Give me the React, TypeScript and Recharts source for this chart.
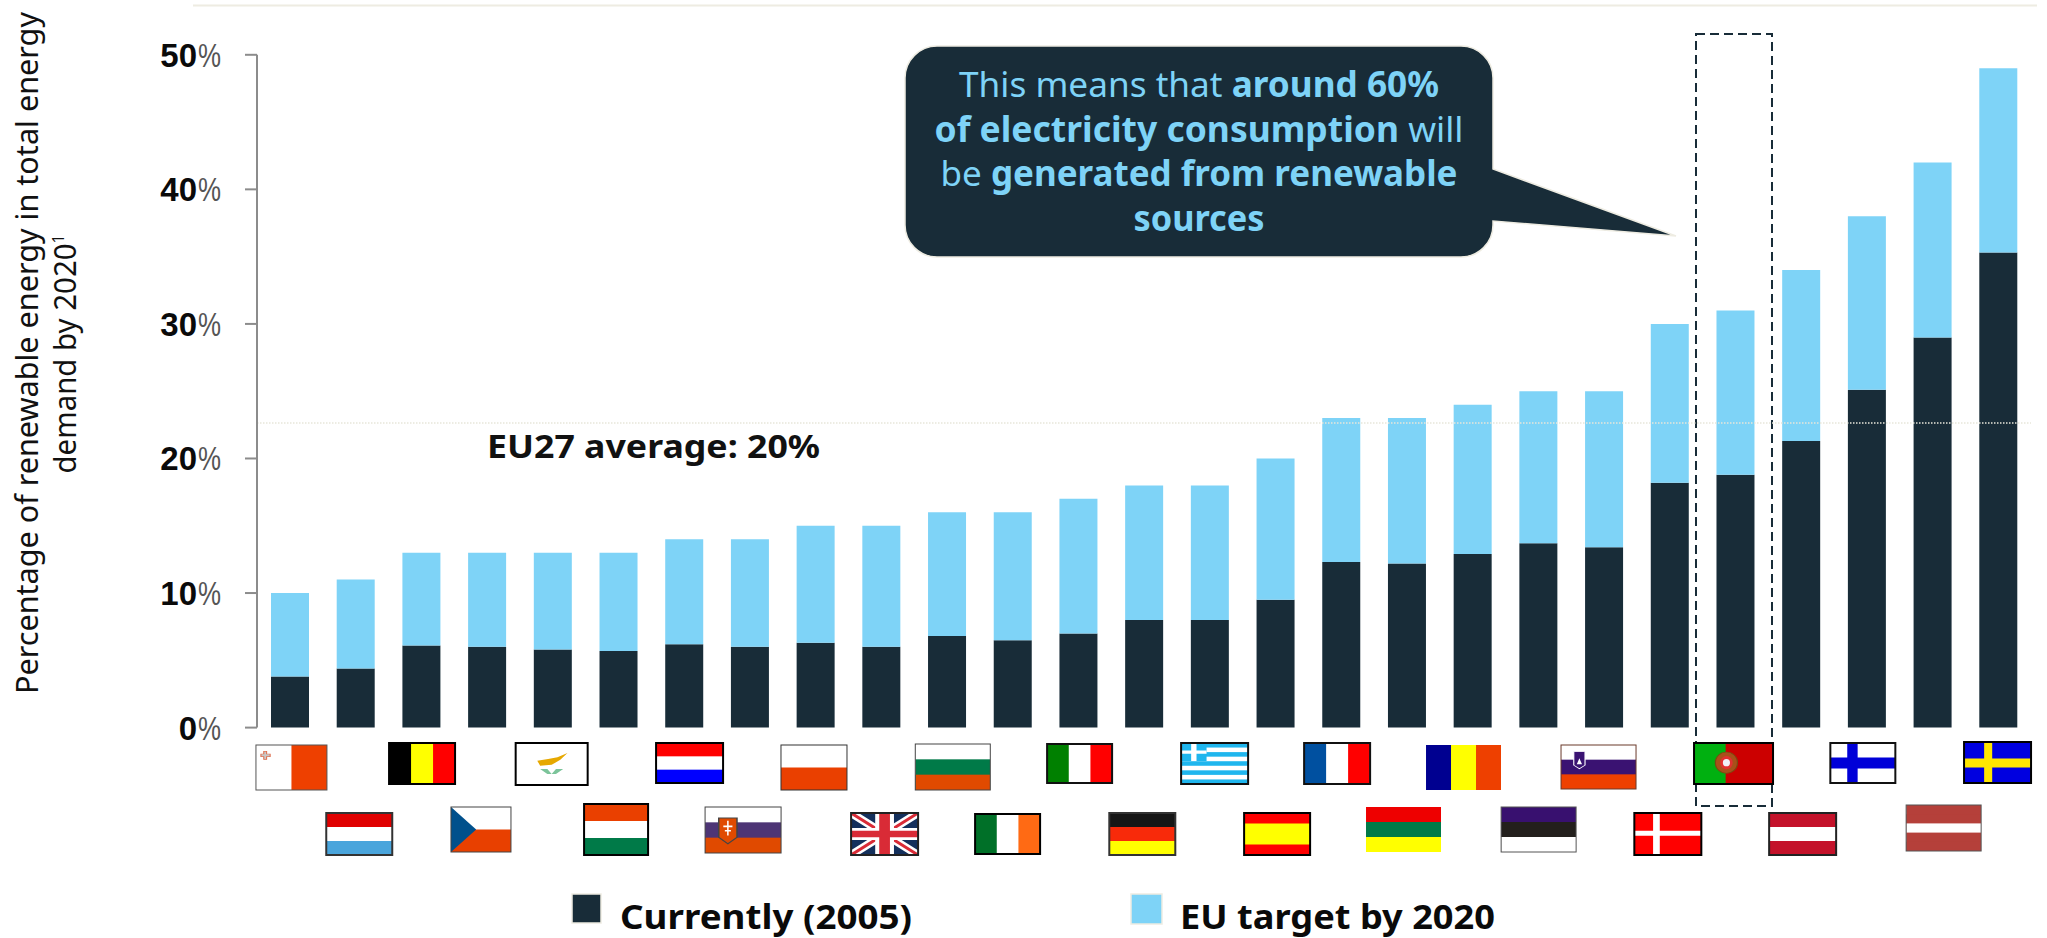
import { Bar, BarChart, ReferenceLine, XAxis, YAxis } from "recharts"

const countries = [
  "Malta", "Luxembourg", "Belgium", "Czech Republic", "Cyprus", "Hungary", "Netherlands",
  "Slovakia", "Poland", "United Kingdom", "Bulgaria", "Ireland", "Italy", "Germany",
  "Greece", "Spain", "France", "Lithuania", "Romania", "Estonia", "Slovenia",
  "Denmark", "Portugal", "Austria", "Finland", "Latvia", "Sweden",
]
const currentShare = [
  3.8, 4.4, 6.1, 6.0, 5.8, 5.7, 6.2, 6.0, 6.3, 6.0, 6.8, 6.5, 7.0, 8.0,
  8.0, 9.5, 12.3, 12.2, 12.9, 13.7, 13.4, 18.2, 18.8, 21.3, 25.1, 29.0, 35.3,
]
const targetShare = [
  10, 11, 13, 13, 13, 13, 14, 14, 15, 15, 16, 16, 17, 18,
  18, 20, 23, 23, 24, 25, 25, 30, 31, 34, 38, 42, 49,
]
const valueTicks = [0, 10, 20, 30, 40, 50]
// the dotted guide runs above the 20 tick, higher than the 20% the caption quotes
const guideLevel = 22.63

const DARK = "#182c38"
const LIGHT = "#7ed3f7"
const FONT = "'Noto Sans', sans-serif"

const rows = countries.map((country, i) => ({
  country,
  current: currentShare[i],
  gap: targetShare[i] - currentShare[i],
}))

// dx from tick centre, absolute top, width, height
const flagBoxes: Record<string, [number, number, number, number]> = {
  Malta: [1.6, 745, 71, 45],
  Luxembourg: [3.7, 813, 66, 42],
  Belgium: [0.8, 743, 66, 41],
  "Czech Republic": [-6, 807, 60, 45],
  Cyprus: [-1, 743, 72, 42],
  Hungary: [-2.3, 804, 64, 51],
  Netherlands: [5.5, 743, 67, 40],
  Slovakia: [-6.7, 807, 76, 46],
  Poland: [-1.5, 745, 66, 45],
  "United Kingdom": [3.4, 813, 67, 42],
  Bulgaria: [5.9, 744, 75, 46],
  Ireland: [-5, 814, 65, 40],
  Italy: [1.3, 744, 65, 39],
  Germany: [-1.7, 813, 66, 42],
  Greece: [4.9, 743, 67, 41],
  Spain: [1.7, 813, 66, 42],
  France: [-4, 743, 66, 41],
  Lithuania: [-3.3, 807, 75, 45],
  Romania: [-9, 745, 75, 45],
  Estonia: [0.4, 807, 75, 45],
  Slovenia: [-5.4, 745, 75, 44],
  Denmark: [-1.8, 813, 67, 42],
  Portugal: [-1.8, 743, 79, 41],
  Austria: [1.6, 813, 67, 42],
  Finland: [-3.9, 743, 65, 40],
  Latvia: [11.2, 805, 75, 46],
  Sweden: [-0.6, 742, 67, 41],
}

type FlagStyle = { dir: "h" | "v"; bands: string[]; border: string; borderWidth: number }

const flagStyles: Record<string, FlagStyle> = {
  Malta: { dir: "v", bands: ["#fff", "#ee4000"], border: "#555", borderWidth: 1 },
  Luxembourg: { dir: "h", bands: ["#e00000", "#fff", "#4aa5dc"], border: "#333", borderWidth: 2 },
  Belgium: { dir: "v", bands: ["#000", "#ff0", "#f00"], border: "#000", borderWidth: 2 },
  "Czech Republic": { dir: "h", bands: ["#fff", "#e84000"], border: "#444", borderWidth: 1 },
  Cyprus: { dir: "h", bands: ["#fff"], border: "#000", borderWidth: 2 },
  Hungary: { dir: "h", bands: ["#ea4000", "#fff", "#007a48"], border: "#000", borderWidth: 2 },
  Netherlands: { dir: "h", bands: ["#f00", "#fff", "#00f"], border: "#000", borderWidth: 2 },
  Slovakia: { dir: "h", bands: ["#fff", "#4d3575", "#e04a00"], border: "#444", borderWidth: 1 },
  Poland: { dir: "h", bands: ["#fff", "#ea4000"], border: "#333", borderWidth: 1 },
  "United Kingdom": { dir: "h", bands: ["#14305c"], border: "#222", borderWidth: 2 },
  Bulgaria: { dir: "h", bands: ["#fff", "#007a48", "#e04a00"], border: "#444", borderWidth: 1 },
  Ireland: { dir: "v", bands: ["#007028", "#fff", "#ff6a14"], border: "#000", borderWidth: 2 },
  Italy: { dir: "v", bands: ["#008000", "#fff", "#f00"], border: "#111", borderWidth: 2 },
  Germany: { dir: "h", bands: ["#161616", "#f82a0a", "#ff0"], border: "#333", borderWidth: 2 },
  Greece: { dir: "h", bands: ["#1fb6ee", "#fff", "#1fb6ee", "#fff", "#1fb6ee", "#fff", "#1fb6ee", "#fff", "#1fb6ee"], border: "#111", borderWidth: 2 },
  Spain: { dir: "h", bands: ["#f00", "#ff0", "#ff0", "#f00"], border: "#000", borderWidth: 2 },
  France: { dir: "v", bands: ["#0050a0", "#fff", "#f00"], border: "#111", borderWidth: 2 },
  Lithuania: { dir: "h", bands: ["#ee0000", "#007a48", "#ff0"], border: "none", borderWidth: 0 },
  Romania: { dir: "v", bands: ["#000090", "#ff0", "#ee4000"], border: "none", borderWidth: 0 },
  Estonia: { dir: "h", bands: ["#38106f", "#231f1c", "#fff"], border: "#555", borderWidth: 1 },
  Slovenia: { dir: "h", bands: ["#fff", "#3a1272", "#ee4000"], border: "#6a3a2a", borderWidth: 1 },
  Denmark: { dir: "h", bands: ["#f00"], border: "#000", borderWidth: 2 },
  Portugal: { dir: "v", bands: ["#00b010", "#cc0000"], border: "#000", borderWidth: 2 },
  Austria: { dir: "h", bands: ["#c4122a", "#fff", "#c4122a"], border: "#222", borderWidth: 2 },
  Finland: { dir: "h", bands: ["#fff"], border: "#111", borderWidth: 2 },
  Latvia: { dir: "h", bands: ["#b5403a", "#b5403a", "#fff", "#b5403a", "#b5403a"], border: "#555", borderWidth: 1 },
  Sweden: { dir: "h", bands: ["#0000e0"], border: "#000", borderWidth: 2 },
}

// emblems and crosses, in a 100x100 box stretched over the flag
function flagDetail(name: string) {
  switch (name) {
    case "Malta":
      return <path d="M11 14H15V20H20V26H15V32H11V26H7V20H11Z" fill="#c8c8c8" stroke="#e07050" strokeWidth="1.5" />
    case "Czech Republic":
      return <path d="M0 0L42 50L0 100Z" fill="#00508c" />
    case "Cyprus":
      return (
        <g>
          <path d="M30 42L45 38L58 34L72 24L62 40L50 52L34 54Z" fill="#e6a800" />
          <path d="M34 62L44 74L50 74L44 62ZM66 62L56 74L50 74L56 62Z" fill="#7cc49a" />
        </g>
      )
    case "Slovakia":
      return (
        <g>
          <path d="M18 24H42V66L30 80L18 66Z" fill="#e04a00" stroke="#444" strokeWidth="2" />
          <path d="M29 30H31V62H29ZM24 40H36V44H24ZM26 50H34V53H26Z" fill="#fff" />
        </g>
      )
    case "United Kingdom":
      return (
        <g>
          <path d="M0 0L100 100M100 0L0 100" stroke="#fff" strokeWidth="16" />
          <path d="M0 0L100 100M100 0L0 100" stroke="#d92b36" strokeWidth="6" />
          <path d="M50 0V100M0 50H100" stroke="#fff" strokeWidth="28" />
          <path d="M50 0V100M0 50H100" stroke="#d92b36" strokeWidth="16" />
        </g>
      )
    case "Greece":
      return (
        <g>
          <rect x="0" y="0" width="38" height="44" fill="#1fb6ee" />
          <path d="M15 0H23V44H15ZM0 18H38V26H0Z" fill="#fff" />
        </g>
      )
    case "Slovenia":
      return (
        <g>
          <path d="M17 15H32V46L24.5 54L17 46Z" fill="#3a1272" stroke="#fff" strokeWidth="1.5" />
          <path d="M21 44L24.5 30L28 44Z" fill="#fff" />
        </g>
      )
    case "Denmark":
      return <path d="M28 0H38V100H28ZM0 42H100V54H0Z" fill="#fff" />
    case "Portugal":
      return (
        <g>
          <ellipse cx="41" cy="48" rx="14" ry="26" fill="#a8501a" stroke="#7a4a10" strokeWidth="1.5" />
          <ellipse cx="41" cy="48" rx="8" ry="16" fill="#e23030" />
          <ellipse cx="41" cy="48" rx="4.5" ry="9" fill="#f0f0f8" />
        </g>
      )
    case "Finland":
      return <path d="M26 0H42V100H26ZM0 36H100V64H0Z" fill="#0000d8" />
    case "Sweden":
      return <path d="M30 0H42V100H30ZM0 40H100V62H0Z" fill="#ffe600" />
    default:
      return null
  }
}

function Flag({ name, cx }: { name: string; cx: number }) {
  const [dx, top, w, h] = flagBoxes[name]
  const style = flagStyles[name]
  const band = style.dir === "v" && name === "Portugal" ? 40 : 100 / style.bands.length
  return (
    <g>
      <svg x={cx + dx - w / 2} y={top} width={w} height={h} viewBox="0 0 100 100" preserveAspectRatio="none">
        {/* each band runs to the far edge so neighbours never show a seam */}
        {style.bands.map((color, i) =>
          style.dir === "h" ? (
            <rect key={i} x={0} y={i * band} width={100} height={100 - i * band} fill={color} />
          ) : (
            <rect key={i} x={i * band} y={0} width={100 - i * band} height={100} fill={color} />
          )
        )}
        {flagDetail(name)}
      </svg>
      {style.borderWidth > 0 && (
        <rect
          x={cx + dx - w / 2}
          y={top}
          width={w}
          height={h}
          fill="none"
          stroke={style.border}
          strokeWidth={style.borderWidth}
        />
      )}
    </g>
  )
}

function FlagTick(props: any) {
  return <Flag name={props.payload.value} cx={props.x} />
}

function PercentTick(props: any) {
  const { x, y, payload } = props
  return (
    <g>
      <text x={x - 24} y={y + 12} textAnchor="end" fontFamily="'Liberation Sans', sans-serif" fontWeight={700} fontSize={33} fill="#0a0a0a">
        {payload.value}
      </text>
      <text x={x} y={y + 12} textAnchor="end" fontFamily="'Liberation Sans', sans-serif" fontSize={33} fill="#555" textLength={23} lengthAdjust="spacingAndGlyphs">
        %
      </text>
    </g>
  )
}

export default function App() {
  return (
    <div style={{ position: "absolute", left: 0, top: 0, width: 2047, height: 938, background: "#fff" }}>
      <BarChart
        width={2047}
        height={938}
        data={rows}
        margin={{ top: 54.8, right: 16, bottom: 0, left: 0 }}
        style={{ fontFamily: FONT }}
      >
        {/* rule along the top of the slide */}
        <line x1={193} y1={5.5} x2={2037} y2={5.5} stroke="#eeece2" strokeWidth={2} />

        <YAxis
          type="number"
          domain={[0, 50]}
          ticks={valueTicks}
          width={257}
          interval={0}
          tick={<PercentTick />}
          tickSize={12}
          tickMargin={24}
          axisLine={{ stroke: "#8c8c8c", strokeWidth: 2 }}
          tickLine={{ stroke: "#8c8c8c", strokeWidth: 2 }}
        />
        <Bar dataKey="current" stackId="share" fill={DARK} barSize={38} isAnimationActive={false} />
        <Bar dataKey="gap" stackId="share" fill={LIGHT} barSize={38} isAnimationActive={false} />
        <ReferenceLine y={guideLevel} stroke="#e8e6da" strokeWidth={1.5} strokeDasharray="1.5 1.5" />

        {/* dashed box around Portugal */}
        <rect x={1696} y={34} width={76} height={772} fill="none" stroke={DARK} strokeWidth={2} strokeDasharray="9 5" />

        <XAxis
          dataKey="country"
          interval={0}
          height={210.4}
          axisLine={false}
          tickLine={false}
          tick={<FlagTick />}
        />

        <text transform="translate(38 353) rotate(-90)" textAnchor="middle" fontFamily={FONT} fontSize={30} fill="#111" textLength={682} lengthAdjust="spacingAndGlyphs">
          Percentage of renewable energy in total energy
        </text>
        <text transform="translate(76 354) rotate(-90)" textAnchor="middle" fontFamily={FONT} fontSize={30} fill="#111" textLength={239} lengthAdjust="spacingAndGlyphs">
          demand by 2020<tspan fontSize={16} dy={-12}>1</tspan>
        </text>

        <text x={487} y={458} fontFamily={FONT} fontWeight={700} fontSize={33} fill="#111" textLength={333} lengthAdjust="spacingAndGlyphs">
          EU27 average: 20%
        </text>

        {/* callout */}
        <path
          d="M937 46H1461A32 32 0 0 1 1493 78V169L1676 236L1493 221V225A32 32 0 0 1 1461 257H937A32 32 0 0 1 905 225V78A32 32 0 0 1 937 46Z"
          fill={DARK}
          stroke="#eeece2"
          strokeWidth={1.5}
        />
        <g fontFamily={FONT} fontSize={35} fill={LIGHT} textAnchor="middle">
          <text x={1199} y={97} textLength={480} lengthAdjust="spacingAndGlyphs">
            This means that <tspan fontWeight={700}>around 60%</tspan>
          </text>
          <text x={1199} y={142} textLength={529} lengthAdjust="spacingAndGlyphs">
            <tspan fontWeight={700}>of electricity consumption</tspan> will
          </text>
          <text x={1199} y={186} textLength={517} lengthAdjust="spacingAndGlyphs">
            be <tspan fontWeight={700}>generated from renewable</tspan>
          </text>
          <text x={1199} y={231} fontWeight={700} textLength={131} lengthAdjust="spacingAndGlyphs">
            sources
          </text>
        </g>

        {/* legend */}
        <rect x={572} y={894} width={29} height={29} fill={DARK} stroke="#eeece2" strokeWidth={1.5} />
        <text x={620} y={929} fontFamily={FONT} fontWeight={700} fontSize={34} fill="#0a0a0a" textLength={292} lengthAdjust="spacingAndGlyphs">
          Currently (2005)
        </text>
        <rect x={1131} y={894} width={31} height={30} fill={LIGHT} stroke="#eeece2" strokeWidth={1.5} />
        <text x={1180} y={929} fontFamily={FONT} fontWeight={700} fontSize={34} fill="#0a0a0a" textLength={315} lengthAdjust="spacingAndGlyphs">
          EU target by 2020
        </text>
      </BarChart>
    </div>
  )
}
